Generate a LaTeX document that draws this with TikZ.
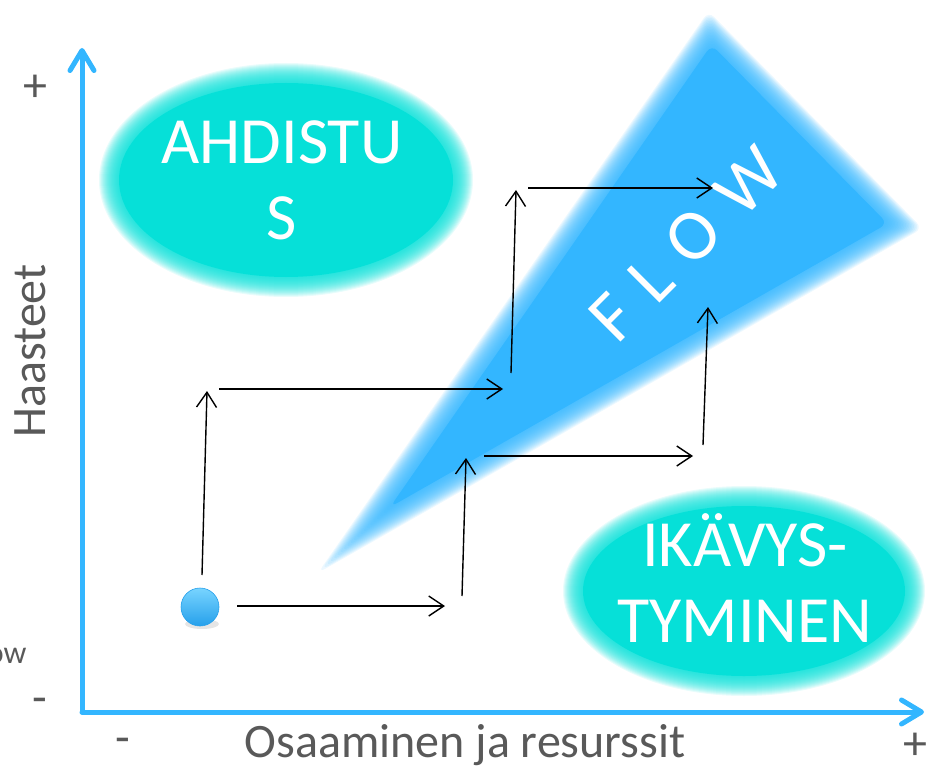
\documentclass[tikz,border=0pt]{standalone}
\usepackage{fontspec}
\setmainfont{Carlito}
\usetikzlibrary{arrows.meta,calc}

\definecolor{flowblue}{RGB}{51,182,255}
\definecolor{balltop}{RGB}{120,212,255}
\definecolor{ballbottom}{RGB}{38,160,235}
\definecolor{zonecyan}{RGB}{6,224,216}
\definecolor{labelgray}{RGB}{89,89,89}

\tikzset{
  axisline/.style={flowblue, line width=5pt, line cap=round,
    -{Straight Barb[length=20pt,width=24pt,round]}},
  stepline/.style={black, line width=1.4pt,
    -{Straight Barb[length=15pt,width=20pt]}},
  axislabel/.style={labelgray, font=\fontsize{48}{56}\selectfont},
  zonetext/.style={white, align=center, font=\fontsize{66}{76}\selectfont},
  softlayer/.style={fill opacity=0.09},
}

\begin{document}
\begin{tikzpicture}[x=1pt,y=-1pt]
    \useasboundingbox (0,0) rectangle (928,767);

    % Flow channel (soft edge from stacked fills)
    \coordinate (tA) at (354,540);
    \coordinate (tB) at (710,28);
    \coordinate (tC) at (905,226);
    \coordinate (tI) at (725.5,200.8);
    \foreach \d in {11,10,...,-11} {
        \pgfmathsetmacro{\s}{1+\d/113.4}
        \fill[flowblue, softlayer, rounded corners=8pt]
            ($(tI)!\s!(tA)$) -- ($(tI)!\s!(tB)$) -- ($(tI)!\s!(tC)$) -- cycle;
    }
    \fill[flowblue, rounded corners=8pt]
        ($(tI)!0.903!(tA)$) -- ($(tI)!0.903!(tB)$) -- ($(tI)!0.903!(tC)$) -- cycle;

    % Zones
    \foreach \d in {10,9,...,-10} {
        \fill[zonecyan, softlayer] (286,180) ellipse [x radius={(177+\d)*1pt}, y radius={(107+\d)*1pt}];
        \fill[zonecyan, softlayer] (744,591) ellipse [x radius={(171+\d)*1pt}, y radius={(95+\d)*1pt}];
    }
    \fill[zonecyan] (286,180) ellipse [x radius=167pt, y radius=97pt];
    \fill[zonecyan] (744,591) ellipse [x radius=161pt, y radius=85pt];

    \node[zonetext, anchor=base] (ahdistus) at (282,240) {AHDISTU\\S};
    \node[zonetext, anchor=base] (ikavys) at (745,642) {IKÄVYS-\\TYMINEN};
    \node[white, rotate=45, font=\fontsize{72}{80}\selectfont] (flow) at (686,244)
        {F\hspace{22pt}L\hspace{22pt}O\hspace{22pt}W};

    % Steps
    \coordinate (u1a) at (202,575); \coordinate (u1b) at (207,391);
    \coordinate (r1a) at (219,389); \coordinate (r1b) at (503,389);
    \coordinate (u2a) at (511,373); \coordinate (u2b) at (516,190);
    \coordinate (r2a) at (528,188); \coordinate (r2b) at (713,188);
    \coordinate (r3a) at (237,606); \coordinate (r3b) at (445,606);
    \coordinate (u3a) at (462,596); \coordinate (u3b) at (466,458);
    \coordinate (r4a) at (484,456); \coordinate (r4b) at (693,456);
    \coordinate (u4a) at (703,445); \coordinate (u4b) at (708,307);
    \foreach \a/\b in {u1a/u1b, r1a/r1b, u2a/u2b, r2a/r2b,
                       r3a/r3b, u3a/u3b, r4a/r4b, u4a/u4b}
        \draw[stepline] (\a) -- (\b);

    % Axes
    \coordinate (origin) at (82,712);
    \coordinate (ytip) at (82,48);
    \coordinate (xtip) at (924,712);
    \draw[axisline] (origin) -- (ytip);
    \draw[axisline] (origin) -- (xtip);

    \node[axislabel, rotate=90] (yname) at (30,351) {Haasteet};
    \node[axislabel, anchor=base] (xname) at (465,757) {Osaaminen ja resurssit};
    \node[axislabel] (yplus) at (35,88) {+};
    \node[axislabel] (yminus) at (40,706) {-};
    \node[axislabel] (xminus) at (123,746) {-};
    \node[axislabel] (xplus) at (915,746) {+};
    \node[labelgray, font=\fontsize{32}{36}\selectfont, anchor=base east] (cutlabel) at (30,663) {ow};

    % Start ball
    \fill[black, opacity=0.1] (202,624) ellipse [x radius=17pt, y radius=5pt];
    \node[circle, minimum size=38pt, inner sep=0pt, top color=balltop, bottom color=ballbottom,
          draw=ballbottom, line width=0.6pt] (start) at (200,607) {};
\end{tikzpicture}
\end{document}
